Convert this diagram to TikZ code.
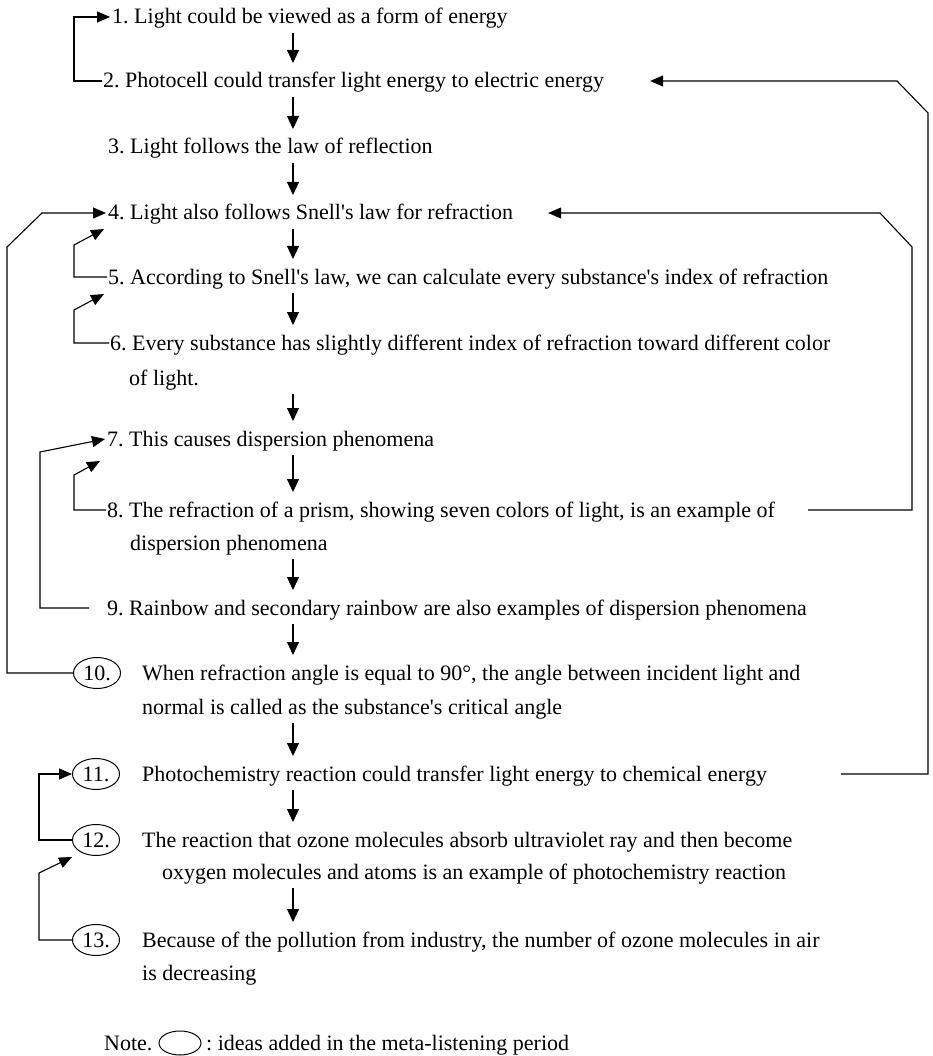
\documentclass[tikz,border=0pt]{standalone}
\usepackage{fontspec}
\setmainfont{Liberation Serif}
\usetikzlibrary{arrows.meta,calc,shapes.geometric}
\frenchspacing
\begin{document}
\begin{tikzpicture}[x=1pt,y=-1pt,
  txt/.style={anchor=base west,inner sep=0pt,font=\fontsize{22}{26}\selectfont},
  oval/.style={draw,ellipse,minimum width=47pt,minimum height=31pt,inner sep=0pt,line width=1pt,font=\fontsize{22}{26}\selectfont},
  conn/.style={line width=1.1pt},
  tip/.style={-{Triangle[length=13pt,width=11pt]}},
  down/.style={line width=1.1pt,-{Triangle[length=13pt,width=12pt]}}]
\useasboundingbox (0,0) rectangle (933,1056);
\coordinate (dx) at (293,0);
% texts
\node[txt] (t1) at (112,24) {1. Light could be viewed as a form of energy};
\node[txt] (t2) at (103,88) {2. Photocell could transfer light energy to electric energy};
\node[txt] (t3) at (108,154) {3. Light follows the law of reflection};
\node[txt] (t4) at (108,220) {4. Light also follows Snell\textquotesingle s law for refraction};
\node[txt] (t5) at (108,284) {5. According to Snell\textquotesingle s law, we can calculate every substance\textquotesingle s index of refraction};
\node[txt] (t6) at (110,350) {6. Every substance has slightly different index of refraction toward different color};
\node[txt] (t6b) at (129,385) {of light.};
\node[txt] (t7) at (107,446) {7. This causes dispersion phenomena};
\node[txt] (t8) at (107,517) {8. The refraction of a prism, showing seven colors of light, is an example of};
\node[txt] (t8b) at (130,550) {dispersion phenomena};
\node[txt] (t9) at (107,615) {9. Rainbow and secondary rainbow are also examples of dispersion phenomena};
\node[oval] (e10) at (97,673) {10.};
\node[txt] (t10) at (142,680) {When refraction angle is equal to 90°, the angle between incident light and};
\node[txt] (t10b) at (142,714) {normal is called as the substance\textquotesingle s critical angle};
\node[oval] (e11) at (96,774) {11.};
\node[txt] (t11) at (142,781) {Photochemistry reaction could transfer light energy to chemical energy};
\node[oval] (e12) at (96,840) {12.};
\node[txt] (t12) at (142,847) {The reaction that ozone molecules absorb ultraviolet ray and then become};
\node[txt] (t12b) at (162,879) {oxygen molecules and atoms is an example of photochemistry reaction};
\node[oval] (e13) at (96,940) {13.};
\node[txt] (t13) at (142,947) {Because of the pollution from industry, the number of ozone molecules in air};
\node[txt] (t13b) at (142,980) {is decreasing};
\node[txt] (note) at (104,1050) {Note.};
\node[draw,ellipse,minimum width=42pt,minimum height=24pt,line width=1pt] (enote) at (180,1043) {};
\node[txt] (notetxt) at (206,1050) {: ideas added in the meta-listening period};
% down arrows
\foreach \a/\b in {t1/t2,t2/t3,t3/t4,t4/t5,t5/t6,t6b/t7,t7/t8,t8b/t9,t9/t10,t10b/t11,t11/t12,t12b/t13}
  \draw[down] ($(\a.base -| dx)+(0,-9pt)$) -- ($(\b.base -| dx)+(0,25pt)$);
% left loops
\draw[conn,tip] ($(t2.base west)+(-1pt,7pt)$) -| (74,17) -- ($(t1.base west)+(-2pt,7pt)$);
\draw[conn,tip] (e10.west) -| (7,247) -- (42,213) -- ($(t4.base west)+(-2pt,7pt)$);
\draw[conn,tip] ($(t5.base west)+(-1pt,7pt)$) -| (74,245) -- ($(t4.base west)+(-4pt,-9pt)$);
\draw[conn,tip] ($(t6.base west)+(-1pt,7pt)$) -| (74,310) -- ($(t5.base west)+(-4pt,-10pt)$);
\draw[conn,tip] ($(t9.base west)+(-18pt,7pt)$) -| (40,452) -- ($(t7.base west)+(-2pt,7pt)$);
\draw[conn,tip] ($(t8.base west)+(-1pt,7pt)$) -| (74,475) -- ($(t7.base west)+(-7pt,-15pt)$);
\draw[conn,tip] (e12.west) -| (39,774) -- (e11.west);
\draw[conn,tip] (e13.west) -| (39,873) -- ($(e12.west)+(0,-17pt)$);
% right loops
\draw[conn,tip] ($(t11.base east)+(74pt,7pt)$) -| (928,113) -- (897,81) -- ($(t2.base east)+(46pt,7pt)$);
\draw[conn,tip] ($(t8.base east)+(33pt,7pt)$) -| (912,247) -- (880,213) -- ($(t4.base east)+(35pt,7pt)$);
\end{tikzpicture}
\end{document}
